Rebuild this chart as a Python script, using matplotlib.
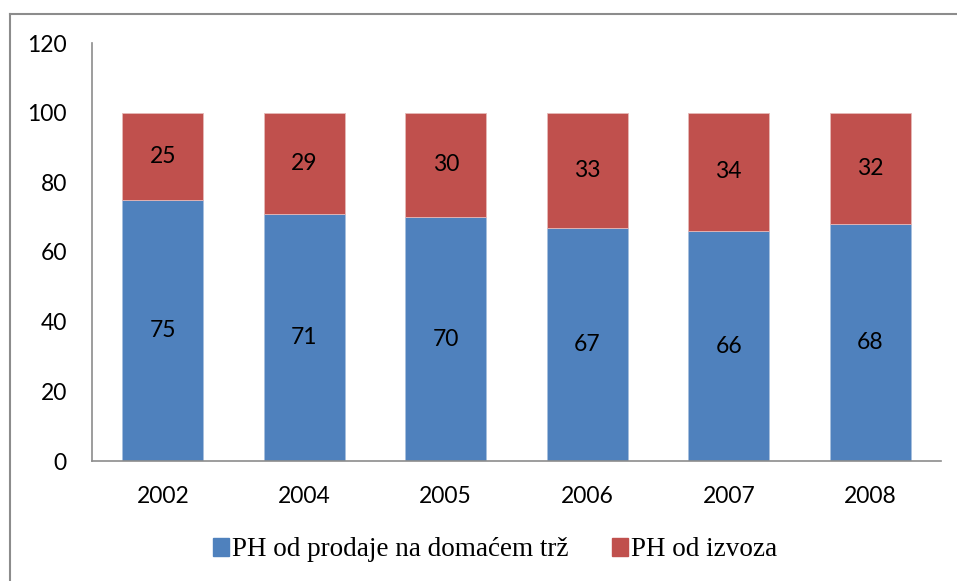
import matplotlib
matplotlib.use("Agg")
import matplotlib.pyplot as plt
from matplotlib.lines import Line2D
from matplotlib.patches import Patch
import numpy as np

years = ["2002", "2004", "2005", "2006", "2007", "2008"]
domestic = [75, 71, 70, 67, 66, 68]
export = [25, 29, 30, 33, 34, 32]
series_names = ["PH od prodaje na domaćem trž", "PH od izvoza"]

blue = "#4F81BD"
red = "#C0504D"
sans = ["Lato", "DejaVu Sans"]
serif = ["Liberation Serif", "DejaVu Serif"]

fig = plt.figure(figsize=(9.57, 5.81), dpi=100)
ax = fig.add_axes([92/957, 1-461/581, (941-92)/957, (461-43)/581])

x = np.arange(len(years))
w = 0.57
b1 = ax.bar(x, domestic, w, color=blue, edgecolor="#A7BFDE", linewidth=0.6)
b2 = ax.bar(x, export, w, bottom=domestic, color=red, edgecolor="#E6B9B8", linewidth=0.6)

for xi, d, e in zip(x, domestic, export):
    ax.text(xi, d/2, str(d), ha="center", va="center", fontsize=16.5, family=sans)
    ax.text(xi, d + e/2, str(e), ha="center", va="center", fontsize=16.5, family=sans)

ax.set_xlim(-0.5, len(years) - 0.5)
ax.set_ylim(0, 120)
ax.set_yticks(range(0, 121, 20))
ax.set_xticks(x)
ax.set_xticklabels(years)
for lab in ax.get_xticklabels() + ax.get_yticklabels():
    lab.set_family(sans)
    lab.set_fontsize(16.5)
ax.tick_params(axis="both", length=0)
ax.tick_params(axis="y", pad=18)
ax.tick_params(axis="x", pad=18)
for s in ["top", "right"]:
    ax.spines[s].set_visible(False)
for s in ["left", "bottom"]:
    ax.spines[s].set_color("#8C8C8C")
    ax.spines[s].set_linewidth(1.2)

handles = [Patch(facecolor=blue, edgecolor=blue), Patch(facecolor=red, edgecolor=red)]
fig.legend(handles, series_names, loc="center", bbox_to_anchor=(0.517, 1-550/581),
           ncol=2, frameon=False, prop={"family": serif, "size": 19.5},
           handlelength=0.6, handleheight=0.6, handletextpad=0.1, columnspacing=1.6,
           borderpad=0, borderaxespad=0)

# outer frame (top and left edges)
fig.add_artist(Line2D([10/957, 1], [1-13.5/581, 1-13.5/581], transform=fig.transFigure, color="#8C8C8C", lw=1.5))
fig.add_artist(Line2D([10/957, 10/957], [0, 1-13.5/581], transform=fig.transFigure, color="#8C8C8C", lw=1.5))

fig.savefig("out.png", dpi=100)
